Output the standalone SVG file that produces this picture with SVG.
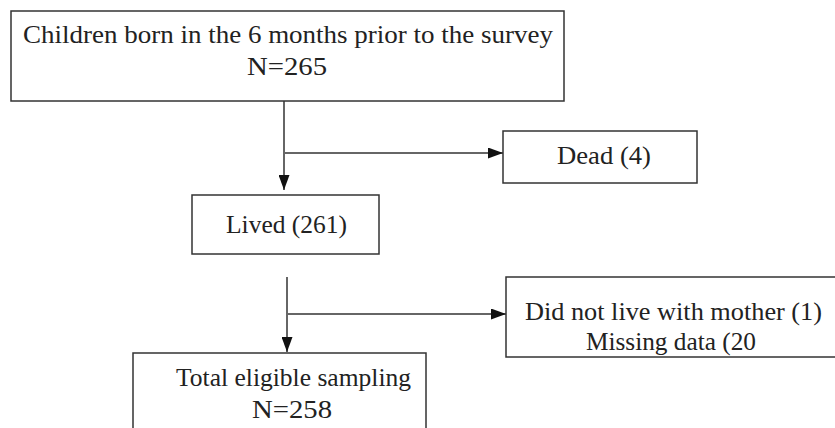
<svg xmlns="http://www.w3.org/2000/svg" width="835" height="428" viewBox="0 0 835 428">
<style>
.box{fill:#fff;stroke:#333;stroke-width:1.5}
.t{font-family:"Liberation Serif","Times New Roman",serif;font-size:26px;fill:#222}
.c{stroke:#333;stroke-width:1.5;fill:none}
</style>
<defs>
<marker id="arr" markerUnits="userSpaceOnUse" markerWidth="15" markerHeight="11" refX="15" refY="5.5" orient="auto">
<path d="M0,0 L15,5.5 L0,11 z" fill="#111"/>
</marker>
</defs>
<rect width="835" height="428" fill="#fff"/>
<g id="connectors">
<line class="c" x1="284" y1="101" x2="284" y2="190" marker-end="url(#arr)"/>
<line class="c" x1="285" y1="153" x2="503" y2="153" marker-end="url(#arr)"/>
<line class="c" x1="287" y1="277" x2="287" y2="352" marker-end="url(#arr)"/>
<line class="c" x1="288" y1="314" x2="506" y2="314" marker-end="url(#arr)"/>
</g>
<g id="n-children">
<rect class="box" x="11" y="11" width="553" height="90"/>
<text class="t" x="23" y="43" textLength="530" lengthAdjust="spacingAndGlyphs">Children born in the 6 months prior to the survey</text>
<text class="t" x="247" y="75" textLength="80" lengthAdjust="spacingAndGlyphs">N=265</text>
</g>
<g id="n-dead">
<rect class="box" x="503" y="131" width="194" height="52"/>
<text class="t" x="557" y="164" textLength="94" lengthAdjust="spacingAndGlyphs">Dead (4)</text>
</g>
<g id="n-lived">
<rect class="box" x="192" y="195" width="187" height="59"/>
<text class="t" x="226" y="233" textLength="121" lengthAdjust="spacingAndGlyphs">Lived (261)</text>
</g>
<g id="n-excluded">
<rect class="box" x="506" y="277" width="340" height="80"/>
<text class="t" x="525" y="320" textLength="297" lengthAdjust="spacingAndGlyphs">Did not live with mother (1)</text>
<text class="t" x="586" y="350" textLength="170" lengthAdjust="spacingAndGlyphs">Missing data (20</text>
</g>
<g id="n-total">
<rect class="box" x="133" y="353" width="293" height="90"/>
<text class="t" x="176" y="386" textLength="235" lengthAdjust="spacingAndGlyphs">Total eligible sampling</text>
<text class="t" x="252" y="418" textLength="80" lengthAdjust="spacingAndGlyphs">N=258</text>
</g>
</svg>
